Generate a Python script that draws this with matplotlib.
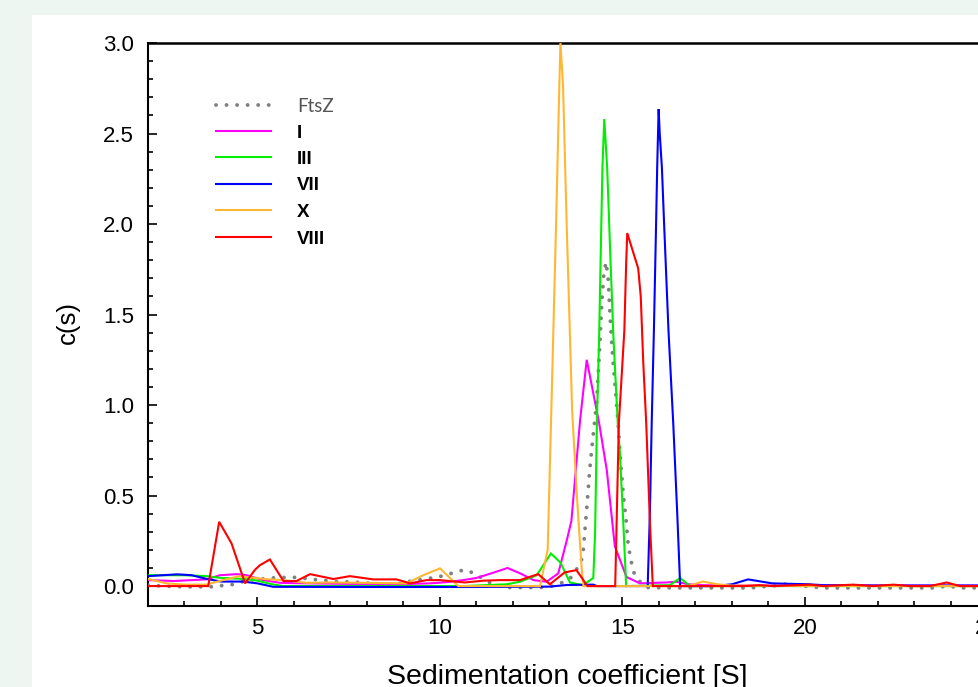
import matplotlib
matplotlib.use("Agg")
import matplotlib.pyplot as plt
from matplotlib.ticker import FixedLocator, FormatStrFormatter
from matplotlib.patches import Rectangle

# ---------------- data ----------------
ftsz_x = [2.0, 2.4, 3.0, 3.8, 4.1, 4.4, 4.7, 5.0, 5.25, 5.5, 5.8, 6.1, 6.4, 6.7, 7.0, 7.25,
          7.5, 7.8, 8.1, 8.4, 8.7, 8.95, 9.2, 9.55, 9.8, 10.1, 10.4, 10.67, 10.95, 11.25, 11.55,
          11.8, 12.7, 13.0, 13.27, 13.56, 13.79, 13.91, 13.95, 14.0, 14.06, 14.1, 14.18, 14.29,
          14.38, 14.43, 14.49, 14.55, 14.61, 14.66, 14.73, 14.82, 14.88, 14.93, 15.02, 15.1,
          15.16, 15.25, 15.32, 15.45, 15.66, 16.5, 17.5, 18.5, 19.2, 19.5, 19.8, 20.5, 22.0,
          23.5, 23.9, 24.3, 25.0, 26.0]
ftsz_y = [0.005, 0.0, -0.004, -0.004, 0.005, 0.01, 0.033, 0.037, 0.042, 0.046, 0.048, 0.048,
          0.04, 0.033, 0.028, 0.022, 0.024, 0.02, 0.015, 0.01, 0.01, 0.015, 0.028, 0.037, 0.046,
          0.057, 0.076, 0.09, 0.07, 0.03, 0.003, -0.008, -0.008, -0.004, 0.012, 0.04, 0.107, 0.16,
          0.26, 0.38, 0.53, 0.64, 0.8, 1.01, 1.34, 1.56, 1.73, 1.79, 1.69, 1.49, 1.27, 1.05, 0.9,
          0.73, 0.51, 0.36, 0.22, 0.125, 0.07, 0.03, -0.008, -0.01, -0.01, -0.01, 0.003, 0.012,
          0.003, -0.01, -0.01, -0.01, 0.0, -0.01, -0.01, -0.01]

i_x = [2.0, 2.7, 3.6, 3.97, 4.43, 4.7, 5.16, 5.62, 6.35, 7.5, 8.5, 9.2, 9.73, 10.2, 10.64,
       11.0, 11.4, 11.85, 12.2, 12.56, 12.92, 13.24, 13.47, 13.6, 13.84, 14.02, 14.36, 14.57,
       14.79, 15.11, 15.48, 16.2, 16.48, 16.8, 17.2, 18.0, 20.0, 22.0, 24.0, 26.0]
i_y = [0.033, 0.028, 0.037, 0.06, 0.066, 0.06, 0.033, 0.018, 0.015, 0.012, 0.012, 0.012,
       0.015, 0.022, 0.033, 0.045, 0.07, 0.1, 0.07, 0.033, 0.024, 0.07, 0.25, 0.36, 0.92, 1.25,
       0.9, 0.64, 0.22, 0.05, 0.015, 0.02, 0.024, 0.01, 0.005, 0.003, 0.003, 0.003, 0.003, 0.003]

iii_x = [2.0, 3.0, 3.6, 4.0, 4.6, 5.0, 5.4, 5.7, 8.0, 10.64, 11.83, 12.19, 12.65, 13.04,
         13.3, 13.56, 13.92, 14.2, 14.25, 14.3, 14.36, 14.41, 14.45, 14.5, 14.58, 14.62, 14.66,
         14.75, 14.87, 14.93, 15.02, 15.1, 16.3, 16.58, 16.85, 18.0, 20.0, 22.0, 24.0, 26.0]
iii_y = [0.06, 0.06, 0.055, 0.045, 0.04, 0.03, 0.01, 0.0, 0.0, 0.0, 0.01, 0.024, 0.06, 0.18,
         0.13, 0.02, 0.005, 0.045, 0.3, 0.92, 1.38, 1.9, 2.31, 2.58, 2.31, 2.09, 1.86, 1.38,
         0.9, 0.73, 0.36, 0.0, 0.005, 0.045, 0.0, 0.0, 0.0, 0.0, 0.0, 0.0]

vii_x = [2.0, 2.4, 2.8, 3.2, 3.6, 4.0, 4.6, 5.0, 5.43, 8.0, 11.0, 13.0, 13.47, 14.2, 14.3,
         15.69, 15.75, 15.8, 15.86, 15.92, 15.95, 15.99, 16.02, 16.08, 16.14, 16.26, 16.39,
         16.5, 16.58, 17.5, 18.0, 18.44, 18.8, 19.1, 20.1, 20.5, 22.0, 24.0, 26.0]
vii_y = [0.055, 0.06, 0.065, 0.06, 0.04, 0.025, 0.025, 0.015, -0.004, -0.005, -0.005, -0.003,
         0.006, 0.008, 0.0, 0.0, 0.4, 0.9, 1.41, 2.0, 2.31, 2.635, 2.5, 2.31, 2.0, 1.41, 0.9,
         0.4, 0.0, 0.0, 0.01, 0.037, 0.025, 0.015, 0.01, 0.005, 0.003, 0.003, 0.003]

x_x = [2.0, 2.5, 3.0, 3.6, 4.0, 4.5, 5.25, 5.7, 6.35, 7.0, 8.0, 9.08, 9.54, 10.0, 10.5,
       11.0, 12.0, 12.74, 12.95, 13.05, 13.18, 13.27, 13.3, 13.37, 13.47, 13.62, 13.75, 13.88,
       13.93, 16.8, 17.2, 17.6, 18.0, 20.0, 22.0, 24.0, 26.0]
x_y = [0.04, 0.015, 0.008, 0.008, 0.03, 0.055, 0.038, 0.033, 0.018, 0.02, 0.018, 0.015, 0.06,
       0.098, 0.0, 0.0, 0.0, 0.0, 0.2, 0.97, 2.0, 2.77, 3.0, 2.77, 2.0, 0.97, 0.5, 0.1, 0.0,
       0.0, 0.025, 0.01, 0.003, 0.0, 0.0, 0.0, 0.0]

viii_x = [2.0, 3.65, 3.95, 4.29, 4.66, 4.93, 5.07, 5.34, 5.71, 6.07, 6.44, 7.08, 7.53, 8.17,
          8.81, 9.18, 9.63, 10.0, 10.68, 11.2, 11.64, 12.19, 12.69, 13.01, 13.42, 13.74, 14.04,
          14.8, 14.9, 15.05, 15.1, 15.13, 15.43, 15.5, 15.57, 15.65, 15.75, 15.83, 16.5, 18.36,
          18.74, 19.13, 20.14, 20.5, 21.32, 21.87, 22.42, 22.88, 23.42, 23.88, 24.25, 24.77, 26.0]
viii_y = [0.0, 0.0, 0.355, 0.235, 0.015, 0.09, 0.116, 0.147, 0.028, 0.028, 0.066, 0.039, 0.055,
          0.037, 0.037, 0.015, 0.033, 0.033, 0.02, 0.03, 0.033, 0.033, 0.066, 0.01, 0.076, 0.088,
          0.0, 0.0, 0.9, 1.41, 1.78, 1.95, 1.755, 1.6, 1.23, 0.9, 0.36, 0.0, 0.0, 0.0, 0.005, 0.0,
          0.008, 0.0, 0.008, 0.0, 0.008, 0.0, 0.0, 0.02, 0.0, 0.0, 0.0]

labels = ["FtsZ", "I", "III", "VII", "X", "VIII"]
colors = ["#808080", "#FF00FF", "#00EE00", "#0000FF", "#FFB732", "#FF0000"]
x_ticks = [5, 10, 15, 20, 25]
y_ticks = [0.0, 0.5, 1.0, 1.5, 2.0, 2.5, 3.0]

# ---------------- figure ----------------
W, H = 979, 687
fig = plt.figure(figsize=(W / 100, H / 100), dpi=100)
fig.patch.set_facecolor("#EEF6F1")
fig.patches.append(Rectangle((32 / W, 0), 1.0, (H - 15) / H, transform=fig.transFigure,
                             facecolor="white", edgecolor="none", zorder=-10))

x0, x1 = 2.0, 26.0
ppu = 36.5
ax_bottom = (H - 606) / H
ax_top = (H - 43) / H
ax = fig.add_axes([148 / W, ax_bottom, (x1 - x0) * ppu / W, ax_top - ax_bottom])
ax.set_facecolor("none")
ax.set_zorder(1)

series = [(ftsz_x, ftsz_y), (i_x, i_y), (iii_x, iii_y), (vii_x, vii_y), (x_x, x_y), (viii_x, viii_y)]
handles = []
for (xs, ys), lab, col in zip(series, labels, colors):
    if lab == "FtsZ":
        ln, = ax.plot(xs, ys, color=col, lw=2.8, linestyle=(0, (0.01, 2.7)),
                      dash_capstyle="round", label=lab, zorder=3)
    else:
        ln, = ax.plot(xs, ys, color=col, lw=1.5, label=lab, zorder=3,
                      solid_joinstyle="miter")
    handles.append(ln)

ax.set_xlim(x0, x1)
ax.set_ylim(-0.11, 3.0)

ax.xaxis.set_major_locator(FixedLocator(x_ticks))
ax.xaxis.set_minor_locator(FixedLocator([v for v in range(3, 26) if v % 5 != 0]))
ax.yaxis.set_major_locator(FixedLocator(y_ticks))
ax.yaxis.set_minor_locator(FixedLocator([k / 10 for k in range(1, 30) if k % 5 != 0]))
ax.yaxis.set_major_formatter(FormatStrFormatter("%.1f"))

tick_font = "Liberation Sans"
ax.tick_params(axis="both", which="major", direction="in", length=6.5, width=1.2,
               labelsize=16, colors="black")
ax.tick_params(axis="both", which="minor", direction="in", length=3.8, width=1.2)
ax.tick_params(axis="x", which="major", pad=9)
ax.tick_params(axis="y", which="major", pad=10)
for t in ax.get_xticklabels() + ax.get_yticklabels():
    t.set_fontfamily(tick_font)

for side in ["left", "bottom", "top"]:
    ax.spines[side].set_linewidth(1.5)
    ax.spines[side].set_color("black")
ax.spines["top"].set_linewidth(1.8)
ax.spines["right"].set_visible(False)

fig.text(567 / W, (H - 677) / H, "Sedimentation coefficient [S]", ha="center", va="center",
         fontsize=20.5, family=tick_font)
fig.text(68 / W, (H - 323) / H, "c(s)", ha="center", va="center", rotation=90,
         fontsize=18.5, family=tick_font)

leg = ax.legend(handles=handles, loc="upper left", bbox_to_anchor=(216 / W, 1 - 98 / H),
                bbox_transform=fig.transFigure, frameon=False, fontsize=13.5,
                handlelength=2.93, handletextpad=1.39, labelspacing=0.5, borderpad=0,
                borderaxespad=0)
for txt in leg.get_texts():
    if txt.get_text() == "FtsZ":
        txt.set_color("#555555")
        txt.set_fontfamily("Lato")
        txt.set_fontweight("normal")
    else:
        txt.set_color("black")
        txt.set_fontfamily(tick_font)
        txt.set_fontweight("bold")

fig.savefig("out.png", dpi=100, facecolor=fig.get_facecolor())
